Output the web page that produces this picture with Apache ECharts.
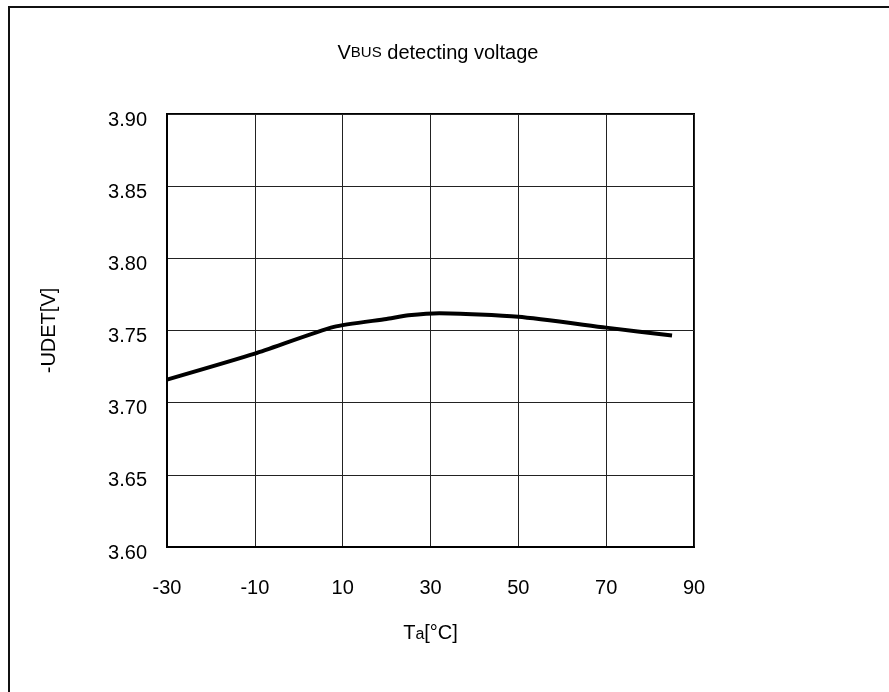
<!DOCTYPE html>
<html>
<head>
<meta charset="utf-8">
<script src="https://cdn.jsdelivr.net/npm/echarts@6/dist/echarts.min.js"></script>
<style>
  html, body { margin: 0; padding: 0; background: #fff; }
  #chart { width: 889px; height: 692px; }
</style>
</head>
<body>
<div id="chart"></div>
<script>
// values
var temps = [-30, -10, 8, 20, 25, 32, 50, 70, 85];
var vdet = [3.716, 3.734, 3.7525, 3.758, 3.7605, 3.762, 3.7595, 3.752, 3.7465];
var xTicks = [-30, 90, 20];       // min, max, step
var yTicks = [3.60, 3.90, 0.05];  // min, max, step

var font = 'Liberation Sans, Arial, sans-serif';

var chart = echarts.init(document.getElementById('chart'), null, { renderer: 'canvas' });

var option = {
    backgroundColor: '#fff',
    animation: false,
    title: {
        text: '{big|V}{small|BUS}{big| detecting voltage}',
        left: 433,
        top: 38,
        textAlign: 'center',
        textStyle: {
            fontWeight: 'normal',
            rich: {
                big: { fontFamily: font, fontSize: 20, fontWeight: 'normal', color: '#000' },
                small: { fontFamily: font, fontSize: 15, fontWeight: 'normal', color: '#000' }
            }
        }
    },
    graphic: [{
        type: 'rect',
        shape: { x: 9, y: 7, width: 1000, height: 1000 },
        style: { fill: null, stroke: '#111', lineWidth: 2 },
        silent: true
    }],
    grid: {
        left: 167,
        top: 114,
        width: 527,
        height: 433,
        show: true,
        borderColor: '#000',
        borderWidth: 2,
        outerBoundsMode: 'none'
    },
    xAxis: {
        type: 'value',
        min: xTicks[0],
        max: xTicks[1],
        interval: xTicks[2],
        name: '{big|T}{small|a}{big|[°C]}',
        nameLocation: 'middle',
        nameGap: 76,
        nameTextStyle: {
            rich: {
                big: { fontFamily: font, fontSize: 20, color: '#000' },
                small: { fontFamily: font, fontSize: 16, color: '#000', padding: [3, 0, 0, 0] }
            }
        },
        axisLine: { show: true, onZero: false, lineStyle: { color: '#000', width: 2 } },
        axisTick: { show: false },
        axisLabel: { margin: 31, fontFamily: font, fontSize: 20, color: '#000' },
        splitLine: { show: true, lineStyle: { color: '#222', width: 1 } }
    },
    yAxis: {
        type: 'value',
        min: yTicks[0],
        max: yTicks[1],
        interval: yTicks[2],
        name: '-UDET[V]',
        nameLocation: 'middle',
        nameGap: 108,
        nameRotate: 90,
        nameTextStyle: { fontFamily: font, fontSize: 20, color: '#000' },
        axisLine: { show: true, onZero: false, lineStyle: { color: '#000', width: 2 } },
        axisTick: { show: false },
        axisLabel: {
            margin: 20,
            color: '#000',
            formatter: function (v) { return '{v|' + v.toFixed(2) + '}'; },
            rich: {
                v: { fontFamily: font, fontSize: 20, color: '#000', padding: [12, 0, 0, 0] }
            }
        },
        splitLine: { show: true, lineStyle: { color: '#222', width: 1 } }
    },
    series: [{
        type: 'line',
        data: temps.map(function (t, i) { return [t, vdet[i]]; }),
        smooth: 0.2,
        showSymbol: false,
        lineStyle: { color: '#000', width: 4 }
    }]
};

chart.setOption(option);
</script>
</body>
</html>
